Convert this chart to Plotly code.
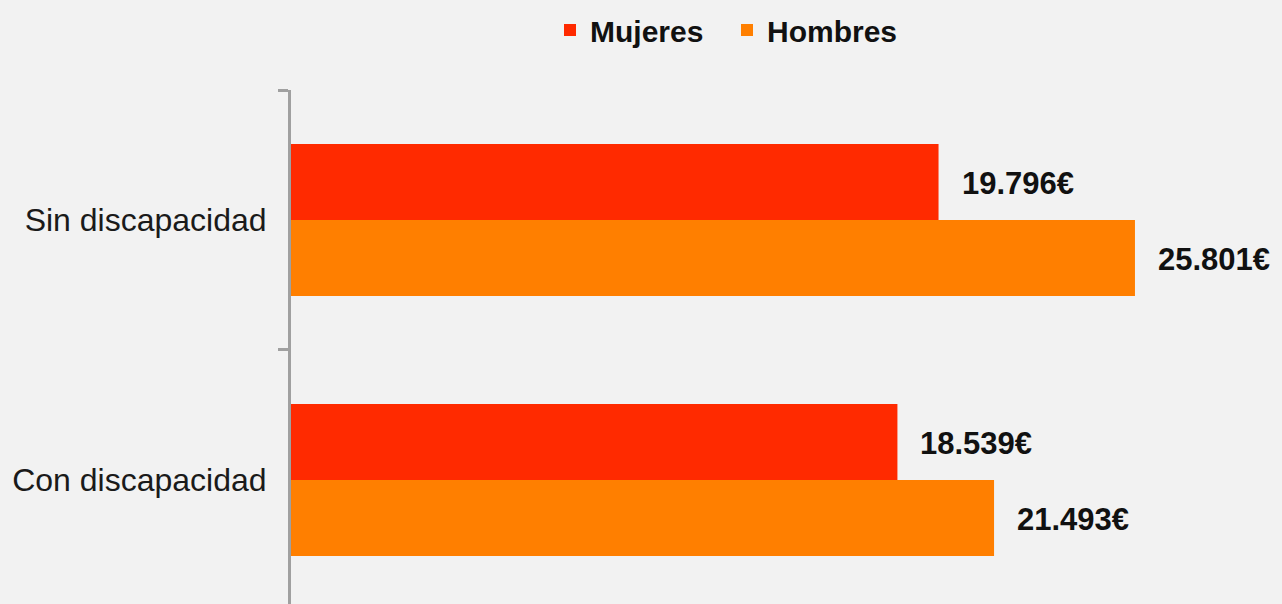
import plotly.graph_objects as go

categories = ["Sin discapacidad", "Con discapacidad"]
mujeres = [19796, 18539]
hombres = [25801, 21493]
series_names = ["Mujeres", "Hombres"]
colors = ["#FF2A00", "#FF7F00"]


def fmt(v):
    return f"{v:,}".replace(",", ".") + "€"


fig = go.Figure()
for name, vals, col in zip(series_names, [mujeres, hombres], colors):
    fig.add_trace(go.Bar(
        name=name, y=categories, x=vals, orientation="h",
        marker=dict(color=col, line=dict(width=0)),
        hoverinfo="skip",
    ))

# value labels
for vals, shift in [(mujeres, 36), (hombres, -40)]:
    for c, v in zip(categories, vals):
        fig.add_annotation(
            x=v, y=c, text=fmt(v), showarrow=False,
            xanchor="left", yanchor="middle", xshift=21, yshift=shift,
            font=dict(family="Liberation Sans, Arial, sans-serif", size=31, color="#111111", weight="bold"),
        )

fig.update_layout(
    width=1282, height=604,
    margin=dict(l=291, r=0, t=90, b=0),
    paper_bgcolor="#F2F2F2", plot_bgcolor="#F2F2F2",
    barmode="group", bargap=0.415, bargroupgap=0,
    font=dict(family="Liberation Sans, Arial, sans-serif"),
    showlegend=True,
    legend=dict(
        orientation="h", xref="container", yref="container",
        x=550 / 1282, xanchor="left", y=1 - 4 / 604, yanchor="top",
        font=dict(size=30, color="#111111", weight="bold"),
        bgcolor="rgba(0,0,0,0)", traceorder="normal",
        entrywidth=132,
    ),
    xaxis=dict(visible=False, range=[0, 30296], showgrid=False, zeroline=False),
    yaxis=dict(
        type="category", categoryorder="array", categoryarray=categories,
        range=[1.477, -0.5],
        showline=True, linewidth=3, linecolor="#A0A0A0",
        ticks="outside", tickson="boundaries", ticklen=10, tickwidth=3, tickcolor="#A0A0A0",
        ticklabelstandoff=15,
        tickfont=dict(size=32, color="#1A1A1A"),
        showgrid=False, zeroline=False,
    ),
)

fig.write_html(
    "out.html",
    config={"displayModeBar": False},
    post_script="document.body.style.margin='0';document.body.style.background='#F2F2F2';",
)
